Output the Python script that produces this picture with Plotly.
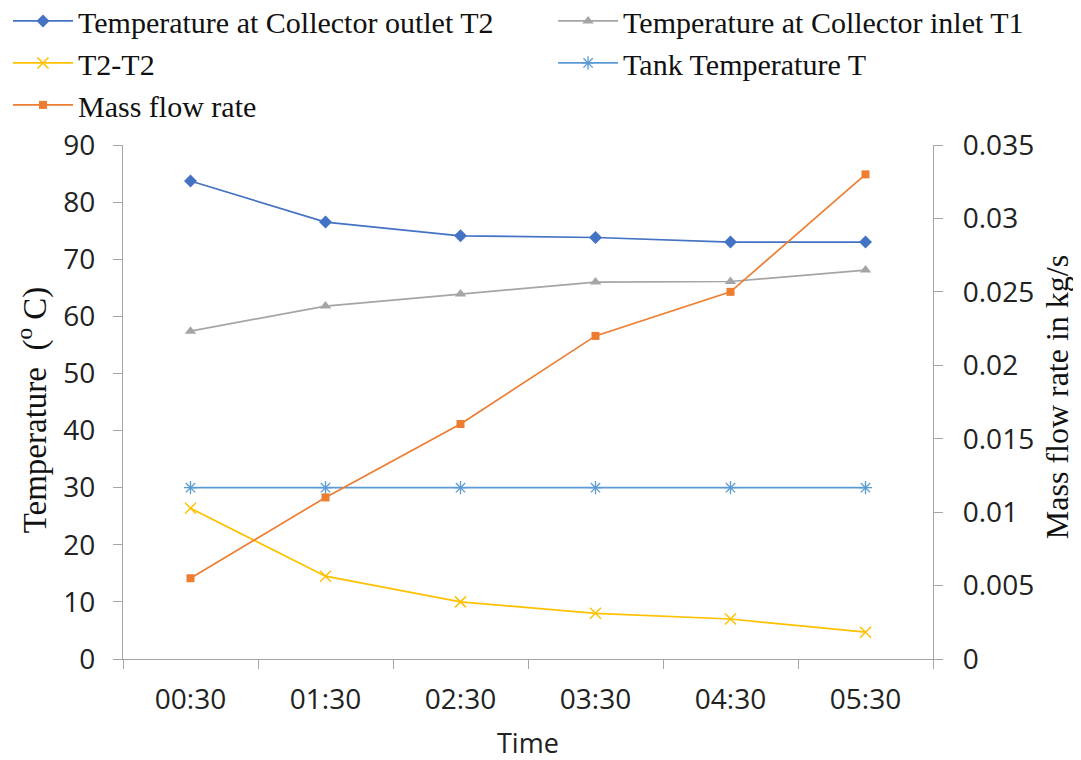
import plotly.graph_objects as go

times = ["00:30", "01:30", "02:30", "03:30", "04:30", "05:30"]
t_outlet = [83.7, 76.5, 74.1, 73.8, 73.0, 73.0]
t_inlet = [57.4, 61.8, 63.9, 66.0, 66.1, 68.1]
t_diff = [26.4, 14.5, 10.0, 8.0, 7.0, 4.7]
t_tank = [30, 30, 30, 30, 30, 30]
mass_flow = [0.0055, 0.011, 0.016, 0.022, 0.025, 0.033]

serif = "Liberation Serif, Times New Roman, serif"
sans = "Open Sans, Calibri, sans-serif"
axis_col = "#a6a6a6"

fig = go.Figure()
fig.add_trace(go.Scatter(x=times, y=t_outlet, name="Temperature at Collector outlet T2",
                         mode="lines+markers", line=dict(color="#4472C4", width=1.7),
                         marker=dict(symbol="diamond", size=10, color="#4472C4"),
                         legend="legend"))
fig.add_trace(go.Scatter(x=times, y=t_inlet, name="Temperature at Collector inlet T1",
                         mode="lines+markers", line=dict(color="#A5A5A5", width=1.7),
                         marker=dict(symbol="triangle-up", size=10, color="#A5A5A5"),
                         legend="legend2"))
fig.add_trace(go.Scatter(x=times, y=t_diff, name="T2-T2",
                         mode="lines+markers", line=dict(color="#FFC000", width=1.7),
                         marker=dict(symbol="x-thin-open", size=11,
                                     line=dict(color="#FFC000", width=1.5)),
                         legend="legend"))
fig.add_trace(go.Scatter(x=times, y=t_tank, name="Tank Temperature T",
                         mode="lines+markers", line=dict(color="#5B9BD5", width=1.7),
                         marker=dict(symbol="asterisk-open", size=11,
                                     line=dict(color="#5B9BD5", width=1.3)),
                         legend="legend2"))
fig.add_trace(go.Scatter(x=times, y=mass_flow, name="Mass flow rate", yaxis="y2",
                         mode="lines+markers", line=dict(color="#ED7D31", width=1.7),
                         marker=dict(symbol="square", size=8, color="#ED7D31"),
                         legend="legend"))

leg_common = dict(orientation="v", xref="container", yref="paper",
                  xanchor="left", yanchor="top", itemwidth=60,
                  font=dict(family=serif, size=30, color="#111111"),
                  bgcolor="rgba(0,0,0,0)", traceorder="normal")

fig.update_layout(
    width=1073, height=752,
    paper_bgcolor="white", plot_bgcolor="white",
    margin=dict(l=115, r=148, t=137, b=101, autoexpand=False),
    showlegend=True,
    legend=dict(x=0.0, y=1.292, **leg_common),
    legend2=dict(x=0.508, y=1.292, **leg_common),
    xaxis=dict(type="category", range=[-0.5, 5.5], showline=True, linecolor=axis_col,
               linewidth=1.3, ticks="outside", tickson="boundaries", ticklen=9,
               tickcolor=axis_col, showgrid=False, zeroline=False,
               tickfont=dict(family=sans, size=28, color="#222222"),
               ticklabelstandoff=15),
    yaxis=dict(range=[0, 90], dtick=10, showline=True, linecolor=axis_col, linewidth=1.3,
               ticks="outside", ticklen=9, tickcolor=axis_col, showgrid=False,
               zeroline=False, tickfont=dict(family=sans, size=28, color="#222222"),
               ticklabelstandoff=12),
    yaxis2=dict(range=[0, 0.035], dtick=0.005, overlaying="y", side="right",
                showline=True, linecolor=axis_col, linewidth=1.3, ticks="outside",
                ticklen=9, tickcolor=axis_col, showgrid=False, zeroline=False,
                tickfont=dict(family=sans, size=28, color="#222222"),
                ticklabelstandoff=14),
    annotations=[
        dict(text="Time", xref="paper", yref="paper", x=0.5, y=-0.1634,
             xanchor="center", yanchor="middle", showarrow=False,
             font=dict(family=sans, size=27, color="#222222")),
        dict(text="Temperature  (<sup>o</sup> C)", xref="paper", yref="paper",
             x=-0.112, y=0.4844, xanchor="center", yanchor="middle", textangle=-90,
             showarrow=False, font=dict(family=serif, size=33, color="#111111")),
        dict(text="Mass flow rate in kg/s", xref="paper", yref="paper",
             x=1.154, y=0.5088, xanchor="center", yanchor="middle", textangle=-90,
             showarrow=False, font=dict(family=serif, size=32, color="#111111")),
    ],
)

fig.write_html("out.html")
